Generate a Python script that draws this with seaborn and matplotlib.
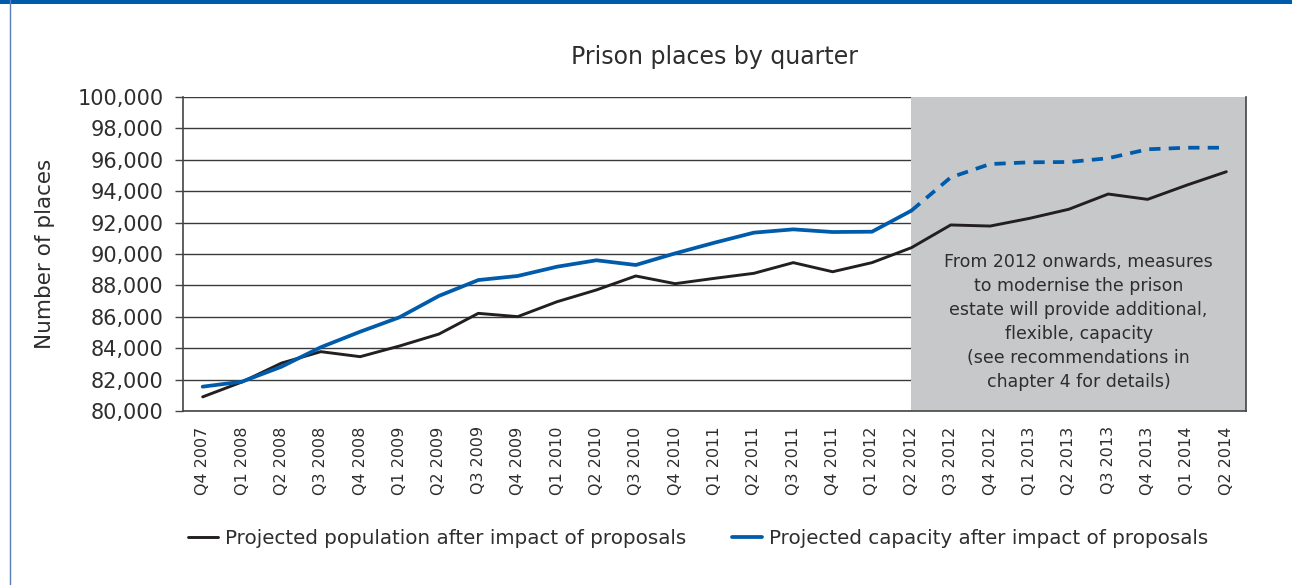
import matplotlib
matplotlib.use("Agg")
import matplotlib.pyplot as plt
import matplotlib.patches as mpatches
from matplotlib.lines import Line2D
import seaborn as sns
import pandas as pd
import numpy as np

quarters = ["Q4 2007", "Q1 2008", "Q2 2008", "Q3 2008", "Q4 2008", "Q1 2009", "Q2 2009",
            "Q3 2009", "Q4 2009", "Q1 2010", "Q2 2010", "Q3 2010", "Q4 2010", "Q1 2011",
            "Q2 2011", "Q3 2011", "Q4 2011", "Q1 2012", "Q2 2012", "Q3 2012", "Q4 2012",
            "Q1 2013", "Q2 2013", "Q3 2013", "Q4 2013", "Q1 2014", "Q2 2014"]
population = [80900, 81850, 83050, 83780, 83460, 84140, 84900, 86220, 86010, 86960, 87710,
              88600, 88110, 88450, 88770, 89450, 88870, 89450, 90400, 91850, 91780, 92270,
              92850, 93820, 93480, 94390, 95240]
capacity = [81550, 81870, 82820, 84060, 85050, 85970, 87330, 88340, 88600, 89190, 89600,
            89300, 90040, 90720, 91360, 91570, 91400, 91420, 92760, 94880, 95730, 95840,
            95860, 96100, 96670, 96770, 96770]
projection_start = "Q2 2012"
yticks = list(range(80000, 100001, 2000))
title = "Prison places by quarter"
ylabel = "Number of places"
pop_label = "Projected population after impact of proposals"
cap_label = "Projected capacity after impact of proposals"
note = ("From 2012 onwards, measures\nto modernise the prison\nestate will provide additional,\n"
        "flexible, capacity\n(see recommendations in\nchapter 4 for details)")

BLACK = "#231f20"
BLUE = "#005bab"
GREY = "#c7c8ca"
TEXT = "#2e2e2e"

sns.set_theme(style="white")
plt.rcParams["font.family"] = ["DejaVu Sans"]

W, H = 1292, 585
fig = plt.figure(figsize=(W / 100, H / 100), dpi=100)
fig.patch.set_facecolor("white")

# decorative frame: top blue bar and left thin blue line
fig.add_artist(mpatches.Rectangle((0, 1 - 4 / H), 1, 4 / H, transform=fig.transFigure,
                                  color=BLUE, lw=0))
fig.add_artist(Line2D([9.5 / W, 9.5 / W], [0, 1], transform=fig.transFigure,
                      color="#5a7fb5", lw=1))

ax = fig.add_axes([183 / W, 1 - 411 / H, (1246 - 183) / W, 314 / H])

x = np.arange(len(quarters))
split = quarters.index(projection_start)
df = pd.DataFrame({"x": x, "pop": population, "cap": capacity})

ax.axvspan(split, len(quarters) - 0.5, color=GREY, lw=0, zorder=1.5)

sns.lineplot(data=df, x="x", y="pop", ax=ax, color=BLACK, lw=2.1, zorder=3)
sns.lineplot(data=df.iloc[:split + 1], x="x", y="cap", ax=ax, color=BLUE, lw=2.7, zorder=3)
sns.lineplot(data=df.iloc[split:], x="x", y="cap", ax=ax, color=BLUE, lw=2.7,
             linestyle=(0, (3, 2.2)), zorder=3)

ax.set_xlim(-0.5, len(quarters) - 0.5)
ax.set_ylim(80000, 100000)
ax.set_yticks(yticks)
ax.set_yticklabels([f"{v:,}" for v in yticks], fontsize=15, color=TEXT)
ax.set_xticks(x)
ax.set_xticklabels(quarters, rotation=90, fontsize=11.5, color=TEXT)
ax.set_xticks(np.arange(-0.5, len(quarters)), minor=True)
ax.tick_params(axis="x", which="major", length=0, pad=11)
ax.tick_params(axis="x", which="minor", length=5, width=1, color="#444444", direction="out")
ax.tick_params(axis="y", which="major", length=6, width=1, color="#444444", direction="out",
               left=True, pad=8)
ax.set_xlabel("")
ax.set_ylabel(ylabel, fontsize=15.5, color=TEXT, labelpad=16)

ax.grid(axis="y", color="#3a3a3a", lw=1, zorder=1)
ax.grid(axis="x", visible=False)
ax.set_axisbelow(True)
for side in ["left", "bottom", "right"]:
    ax.spines[side].set_visible(True)
    ax.spines[side].set_color("#444444")
    ax.spines[side].set_linewidth(1.2)
ax.spines["top"].set_visible(False)

ax.set_title(title, fontsize=17, color=TEXT, pad=24)

ax.text((split + len(quarters) - 0.5) / 2, 85670, note, ha="center", va="center",
        fontsize=12.5, color=TEXT, linespacing=1.42, zorder=4)

handles = [Line2D([], [], color=BLACK, lw=2.1), Line2D([], [], color=BLUE, lw=2.7)]
fig.legend(handles, [pop_label, cap_label], loc="center", bbox_to_anchor=(698 / W, 1 - 538 / H),
           ncol=2, frameon=False, fontsize=14.3, handlelength=1.5, handletextpad=0.35,
           columnspacing=2.3, labelcolor=TEXT)

fig.savefig("out.png", dpi=100)
